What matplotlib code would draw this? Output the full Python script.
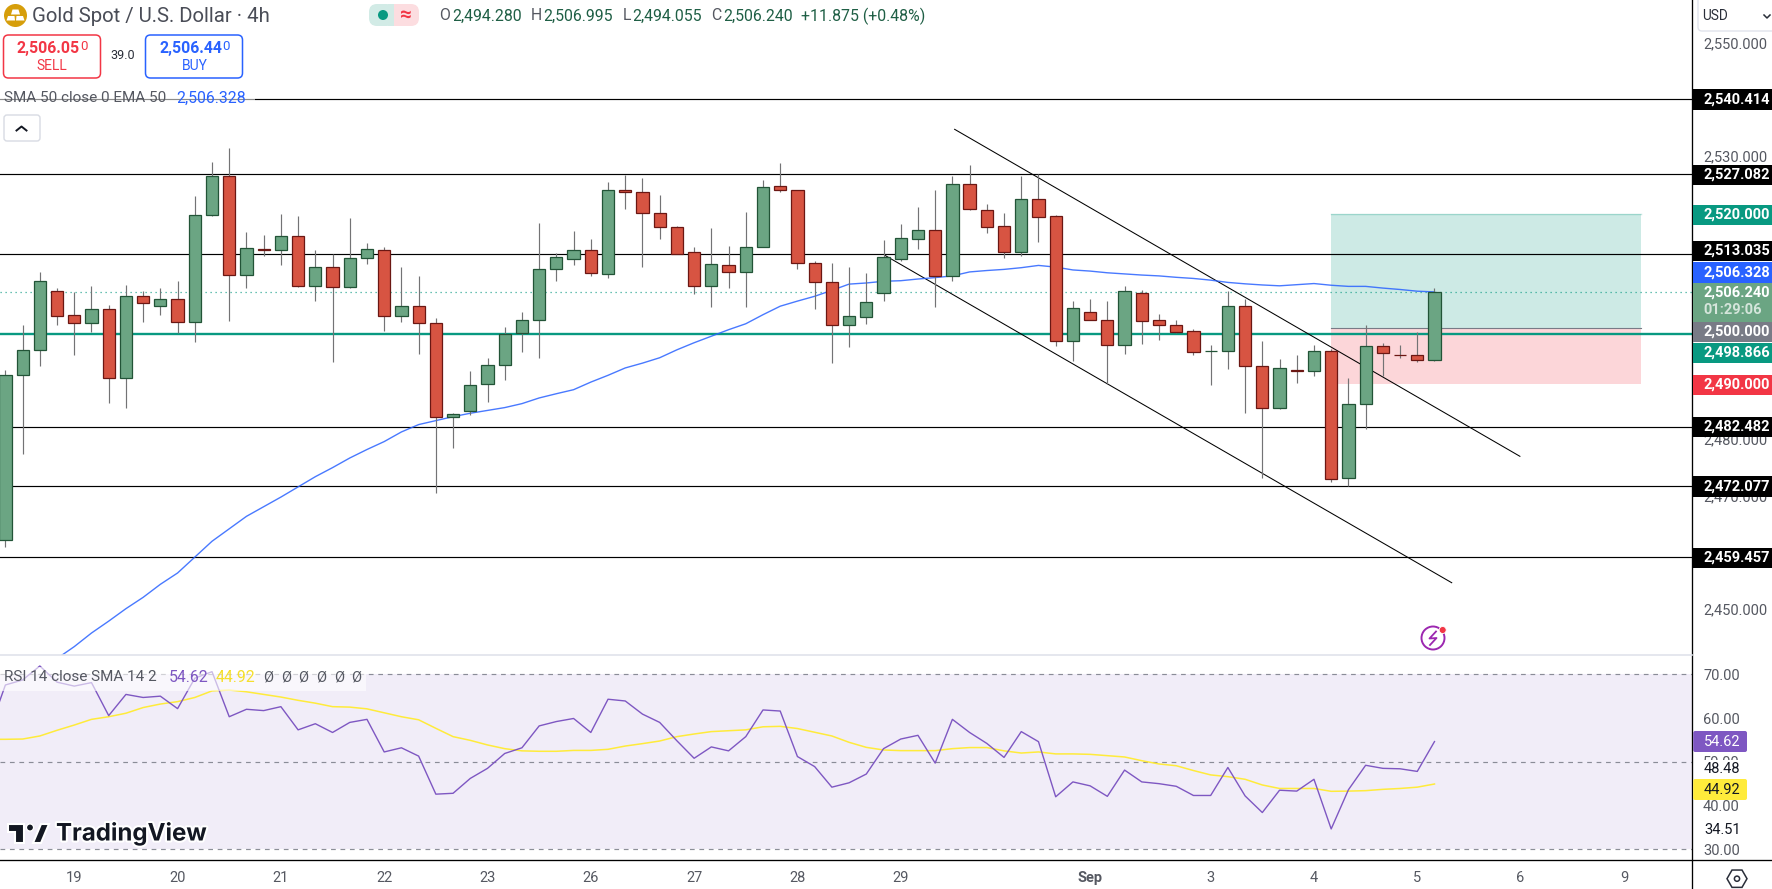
import matplotlib
matplotlib.use("Agg")
import matplotlib.pyplot as plt
from matplotlib.patches import Rectangle, Circle, FancyBboxPatch, Polygon, RegularPolygon
from matplotlib.transforms import ScaledTranslation
import matplotlib.patheffects as pe

plt.rcParams['font.family'] = ['Roboto', 'DejaVu Sans']

# ======================
# DATA
# ======================
opens = [2462.5, 2491.7, 2496.0, 2506.5, 2502.3, 2500.8, 2503.3, 2491.1, 2505.6, 2503.8,
         2505.1, 2501.0, 2519.9, 2526.8, 2509.3, 2513.9, 2513.7, 2516.2, 2507.4, 2510.7,
         2507.2, 2512.3, 2513.7, 2502.1, 2503.8, 2500.8, 2484.2, 2485.3, 2490.1, 2493.5,
         2499.0, 2501.4, 2510.4, 2512.1, 2513.7, 2509.5, 2524.25, 2523.9, 2520.2, 2517.7,
         2513.3, 2507.3, 2511.0, 2509.9, 2514.3, 2525.1, 2524.4, 2511.5, 2508.1, 2500.5,
         2501.9, 2506.2, 2512.2, 2515.7, 2517.2, 2509.2, 2525.3, 2520.7, 2517.9, 2513.4,
         2522.8, 2519.65, 2497.6, 2502.8, 2501.4, 2496.9, 2506.2, 2501.4, 2500.5, 2499.5,
         2495.95, 2495.9, 2503.9, 2493.3, 2485.9, 2492.6, 2492.3, 2495.9, 2473.4, 2486.6,
         2496.8, 2495.25, 2495.2, 2494.28]
closes = [2491.7, 2496.0, 2508.3, 2502.1, 2500.8, 2503.3, 2491.1, 2505.6, 2504.4, 2505.1,
          2501.0, 2519.9, 2526.8, 2509.3, 2514.1, 2513.7, 2516.2, 2507.4, 2510.7, 2507.2,
          2512.3, 2513.9, 2502.1, 2503.8, 2500.8, 2484.2, 2484.7, 2489.9, 2493.5, 2498.9,
          2501.4, 2510.4, 2512.5, 2513.7, 2509.6, 2524.25, 2523.9, 2520.2, 2517.8, 2513.0,
          2507.3, 2511.2, 2509.9, 2514.3, 2524.8, 2524.4, 2511.5, 2508.1, 2500.5, 2502.0,
          2504.6, 2512.4, 2515.9, 2517.2, 2509.2, 2525.3, 2521.0, 2517.8, 2513.4, 2522.8,
          2519.6, 2497.6, 2503.4, 2501.4, 2496.9, 2506.4, 2501.2, 2500.5, 2499.2, 2495.7,
          2495.95, 2503.9, 2493.3, 2485.9, 2492.9, 2492.3, 2495.9, 2473.3, 2486.6, 2496.8,
          2495.6, 2495.2, 2494.3, 2506.24]
highs = [2492.5, 2500.4, 2509.9, 2507.0, 2506.3, 2507.3, 2504.1, 2507.6, 2506.4, 2507.0,
         2508.3, 2523.3, 2529.3, 2531.8, 2516.9, 2516.3, 2520.0, 2519.8, 2513.8, 2513.1,
         2519.3, 2514.9, 2514.3, 2510.8, 2509.2, 2501.8, 2485.0, 2492.3, 2494.6, 2500.2,
         2502.7, 2518.5, 2513.2, 2517.1, 2515.7, 2525.7, 2527.0, 2526.4, 2523.4, 2517.9,
         2514.2, 2517.6, 2514.4, 2520.4, 2526.1, 2529.1, 2524.4, 2511.7, 2511.4, 2510.7,
         2509.6, 2515.5, 2518.3, 2521.3, 2524.4, 2526.8, 2528.7, 2521.8, 2520.2, 2526.8,
         2527.1, 2519.9, 2504.8, 2505.0, 2504.7, 2507.3, 2506.6, 2502.5, 2501.3, 2499.7,
         2497.0, 2506.5, 2505.1, 2497.7, 2494.4, 2495.1, 2497.0, 2496.2, 2491.2, 2500.4,
         2497.3, 2497.0, 2499.3, 2506.995]
lows = [2461.3, 2477.7, 2493.3, 2500.5, 2495.2, 2499.3, 2486.7, 2485.8, 2501.0, 2502.3,
        2499.1, 2497.5, 2519.7, 2501.1, 2507.0, 2512.6, 2511.0, 2507.2, 2504.7, 2493.9,
        2507.0, 2511.3, 2499.4, 2501.0, 2495.4, 2470.9, 2478.7, 2484.6, 2486.9, 2490.7,
        2495.7, 2494.7, 2508.2, 2511.1, 2509.1, 2508.8, 2521.0, 2510.7, 2515.7, 2513.0,
        2506.0, 2503.7, 2507.0, 2503.7, 2514.3, 2524.0, 2510.4, 2503.3, 2493.7, 2496.6,
        2500.65, 2504.8, 2511.7, 2513.9, 2503.7, 2508.3, 2520.8, 2516.8, 2512.3, 2512.7,
        2515.2, 2496.8, 2494.2, 2501.4, 2490.1, 2495.3, 2497.2, 2497.8, 2499.0, 2495.2,
        2489.9, 2492.8, 2484.9, 2473.4, 2485.6, 2490.2, 2491.4, 2472.7, 2472.05, 2482.2,
        2491.4, 2494.6, 2494.0, 2494.055]

# EMA 50, starts at the fourth candle (the rest is below the pane)
ema_start = 3
ema = [2441.6, 2443.7, 2446.1, 2448.2, 2450.4, 2452.4, 2454.7, 2456.7, 2459.5, 2462.3,
       2464.5, 2466.7, 2468.4, 2470.1, 2471.9, 2473.7, 2475.3, 2477.0, 2478.5, 2479.9,
       2481.6, 2482.9, 2483.6, 2484.3, 2484.9, 2485.4, 2485.9, 2486.6, 2487.6, 2488.35,
       2489.06, 2490.4, 2491.6, 2492.9, 2493.75, 2494.7, 2496.1, 2497.35, 2498.5, 2499.65,
       2500.7, 2502.3, 2503.8, 2504.7, 2505.55, 2506.6, 2507.7, 2507.9, 2508.2, 2508.3,
       2508.6, 2508.85, 2509.15, 2509.85, 2510.1, 2510.3, 2510.6, 2511.0, 2510.7, 2510.2,
       2510.0, 2509.7, 2509.5, 2509.3, 2509.15, 2508.9, 2508.7, 2508.4, 2508.0, 2507.75,
       2507.55, 2507.4, 2507.6, 2507.8, 2507.5, 2507.3, 2507.3, 2507.0, 2506.75, 2506.45,
       2506.328]

# RSI and its SMA, one point before the first visible candle
rsi = [56.5, 67.56, 68.7, 71.9, 68.2, 67.3, 68.1, 60.55, 65.4, 64.7, 65.0, 62.15, 69.1, 70.6,
       60.3, 62.0, 61.7, 62.6, 57.3, 58.7, 56.7, 59.0, 59.7, 52.25, 53.2, 51.3, 42.6, 42.8,
       46.2, 48.5, 51.9, 53.2, 58.2, 59.2, 59.9, 56.7, 64.3, 63.9, 60.9, 59.0, 54.8, 50.8,
       53.4, 52.5, 55.75, 61.85, 61.6, 51.2, 48.9, 44.2, 45.2, 47.2, 53.0, 55.2, 56.05, 49.7,
       59.7, 56.7, 54.2, 51.0, 56.9, 54.6, 42.0, 45.4, 44.5, 42.1, 48.1, 45.4, 45.0, 44.4,
       42.3, 42.3, 48.7, 42.2, 38.4, 43.5, 43.3, 46.0, 34.65, 43.6, 49.2, 48.5, 48.4, 47.8,
       54.62]
rsi_sma = [55.14, 55.14, 55.2, 55.9, 57.2, 58.4, 59.7, 60.3, 61.1, 62.4, 63.2, 63.75, 64.7, 66.2,
           66.4, 66.0, 65.4, 64.8, 64.05, 63.4, 62.6, 62.5, 62.1, 61.2, 60.3, 59.6, 57.65, 55.75,
           54.9, 53.85, 53.0, 52.5, 52.4, 52.4, 52.6, 52.6, 52.85, 53.6, 54.15, 54.75, 55.75, 56.35,
           56.9, 57.1, 57.3, 58.0, 58.1, 57.6, 56.75, 55.9, 54.45, 53.3, 52.7, 52.55, 52.55, 52.55,
           53.0, 53.25, 53.25, 52.5, 52.0, 52.25, 51.8, 51.8, 51.7, 51.4, 51.1, 50.25, 49.5, 49.1,
           48.0, 47.0, 46.6, 46.0, 44.7, 43.9, 43.9, 43.9, 43.25, 43.3, 43.4, 43.7, 43.9, 44.2,
           44.92]

level_prices = [2540.414, 2527.082, 2513.035, 2482.482, 2472.077, 2459.457]
last_price = 2506.24
prev_close_line = 2498.866
target_price = 2520.0
entry_price = 2500.0
stop_price = 2490.0
position_x = [77, 95]

channel_upper_x = [55.13, 87.96]
channel_upper_y = [2535.03, 2477.3]
channel_lower_x = [51.07, 84.0]
channel_lower_y = [2512.8, 2454.98]

price_ticks = [2550, 2530, 2480, 2470, 2450]
rsi_ticks = [70, 60, 50, 40, 30]
date_pos = [4, 10, 16, 22, 28, 34, 40, 46, 52, 63, 70, 76, 82, 88, 94]
date_labels = ['19', '20', '21', '22', '23', '26', '27', '28', '29', 'Sep', '3', '4', '5', '6', '9']

# ======================
# COLOURS
# ======================
GREEN = '#6BA583'
GREEN_EDGE = '#225437'
RED = '#D75442'
RED_EDGE = '#6B1713'
WICK = '#737375'
TEAL = '#089981'
BLUE = '#2962FF'
TV_RED = '#F23645'
PURPLE = '#7E57C2'
YELLOW = '#FFEB3B'
GREY_TXT = '#555861'

# ======================
# FIGURE AND PANES
# ======================
W, H = 1772, 889
fig = plt.figure(figsize=(W / 100, H / 100), dpi=100, facecolor='white')
AX_R = 1692.5
PANE_Y = 655
RSI_B = 860


def pane(top, bottom):
    return fig.add_axes([0, 1 - bottom / H, AX_R / W, (bottom - top) / H])


ax = pane(0, PANE_Y)
ax2 = pane(PANE_Y, RSI_B)
xlim = (-5.4 / 17.218, (AX_R - 5.4) / 17.218)
ax.set_xlim(xlim)
ax2.set_xlim(xlim)
ax.set_ylim(2442.22, 2557.86)
ax2.set_ylim(27.55, 74.41)

for a in (ax, ax2):
    for s in a.spines.values():
        s.set_visible(False)
    a.yaxis.tick_right()

ax.set_xticks([])
ax.set_yticks(price_ticks)
ax.set_yticklabels([f'{p:,.3f}' for p in price_ticks], fontsize=10.5, color=GREY_TXT, va='center_baseline')
ax.tick_params(axis='y', length=0, pad=7.6)
# the reference prints these labels a little above their price
for lab in ax.get_yticklabels():
    lab.set_transform(lab.get_transform() + ScaledTranslation(0, 2 / 100, fig.dpi_scale_trans))

ax2.set_yticks(rsi_ticks)
ax2.set_yticklabels([f'{p:.2f}' for p in rsi_ticks], fontsize=10.5, color=GREY_TXT, va='center_baseline')
ax2.tick_params(axis='y', length=0, pad=7.6)
ax2.set_xticks(date_pos)
ax2.set_xticklabels(date_labels, fontsize=10.5, color=GREY_TXT)
ax2.tick_params(axis='x', length=0, pad=8)
ax2.get_xticklabels()[date_labels.index('Sep')].set_fontweight('bold')

# ======================
# MAIN PANE
# ======================
ax.add_patch(Rectangle((position_x[0], entry_price), position_x[1] - position_x[0],
                       target_price - entry_price, fc=TEAL, alpha=0.2, lw=0, zorder=1))
ax.add_patch(Rectangle((position_x[0], stop_price), position_x[1] - position_x[0],
                       entry_price - stop_price, fc=TV_RED, alpha=0.2, lw=0, zorder=1))
ax.plot(position_x, [target_price, target_price], color=TEAL, alpha=0.25, lw=1, zorder=1)
ax.plot(position_x, [entry_price, entry_price], color='#787B86', lw=0.8, zorder=1.5)

for p in level_prices:
    ax.axhline(p, color='black', lw=0.85, zorder=2)
ax.axhline(prev_close_line, color=TEAL, lw=1.7, zorder=2)
ax.axhline(last_price, color=TEAL, lw=0.9, ls=(0, (1, 3)), alpha=0.8, zorder=2)

ax.plot(channel_upper_x, channel_upper_y, color='black', lw=0.75, zorder=2.5)
ax.plot(channel_lower_x, channel_lower_y, color='black', lw=0.75, zorder=2.5)

ax.plot(range(ema_start, ema_start + len(ema)), ema, color=BLUE, alpha=0.85, lw=1.0, zorder=2.7)

xs = list(range(len(opens)))
ax.vlines(xs, lows, highs, color=WICK, lw=0.85, zorder=3)
for i in xs:
    up = closes[i] >= opens[i]
    ax.bar(i, closes[i] - opens[i], bottom=opens[i], width=0.71,
           color=GREEN if up else RED, edgecolor=GREEN_EDGE if up else RED_EDGE,
           lw=0.9, zorder=4)

# ======================
# RSI PANE
# ======================
ax2.axhspan(30, 70, color=PURPLE, alpha=0.1, lw=0, zorder=1)
for lv in rsi_ticks[0], rsi_ticks[2], rsi_ticks[4]:
    ax2.axhline(lv, color='#787B86', lw=0.85, ls=(0, (4, 4)), alpha=0.85, zorder=2)
ax2.plot(range(-1, len(rsi_sma) - 1), rsi_sma, color=YELLOW, lw=1.1, zorder=3)
ax2.plot(range(-1, len(rsi) - 1), rsi, color=PURPLE, lw=1.0, zorder=4)

# ======================
# OVERLAY IN PIXELS (header, badges, icons)
# ======================
ov = fig.add_axes([0, 0, 1, 1], zorder=10)
ov.set_xlim(0, W)
ov.set_ylim(H, 0)
ov.axis('off')
ov.patch.set_alpha(0)


def txt(x, y, s, size=10.5, color=GREY_TXT, ha='left', **kw):
    return ov.text(x, y, s, fontsize=size, color=color, ha=ha, va='center', **kw)


def rbox(x0, y0, x1, y1, fc='white', ec='none', lw=1, r=3, alpha=None, z=1):
    ov.add_patch(FancyBboxPatch((x0 + r, y0 + r), x1 - x0 - 2 * r, y1 - y0 - 2 * r,
                                boxstyle=f'round,pad={r}', fc=fc, ec=ec, lw=lw, alpha=alpha, zorder=z))


# pane borders
ov.plot([0, W], [RSI_B, RSI_B], color='black', lw=0.95)
ov.plot([AX_R, AX_R], [0, H], color='black', lw=0.95)
ov.plot([0, AX_R], [PANE_Y, PANE_Y], color='#E0E3EB', lw=1.2)

# gold logo
ov.add_patch(Circle((15.5, 15.5), 11.5, fc='#D69E0B', ec='none'))
ov.add_patch(Polygon([(12.5, 9.5), (18.5, 9.5), (20, 14.5), (11, 14.5)], fc='white', ec='none', zorder=2))
ov.add_patch(Polygon([(8, 16), (14.5, 16), (15, 20.5), (6.5, 20.5)], fc='white', ec='none', zorder=2))
ov.add_patch(Polygon([(16.5, 16), (23, 16), (24.5, 20.5), (16, 20.5)], fc='white', ec='none', zorder=2))
txt(32, 16.5, 'Gold Spot / U.S. Dollar · 4h', size=14.7, color='#4A4D57')

# status pill
rbox(369, 4, 394, 26, fc='#D2EBE6', r=8)
rbox(394, 4, 419, 26, fc='#FCDDE0', r=8)
ov.add_patch(Rectangle((388, 4), 10, 22, fc='#D2EBE6', lw=0, zorder=1))
ov.add_patch(Rectangle((394, 4), 10, 22, fc='#FCDDE0', lw=0, zorder=1))
ov.add_patch(Circle((383, 15), 5, fc=TEAL, ec='none', zorder=3))
txt(406, 15, '≈', size=15, color=TV_RED, ha='center', fontweight='bold', zorder=3)

# OHLC
ohlc_green = '#1F5F45'
for x_l, x_v, lab, val in [(439.5, 452, 'O', '2,494.280'), (531, 543.5, 'H', '2,506.995'),
                           (622.7, 632.5, 'L', '2,494.055'), (711.5, 723.5, 'C', '2,506.240')]:
    txt(x_l, 16, lab, size=11.4)
    txt(x_v, 16, val, size=11.4, color=ohlc_green)
txt(801, 16, '+11.875 (+0.48%)', size=11.4, color=ohlc_green)

# sell / buy boxes
rbox(3.5, 35, 100.5, 78, ec=TV_RED, lw=1.1, r=5)
txt(17, 48.5, '2,506.05', size=11.4, color=TV_RED, fontweight='bold')
txt(80, 47, '0', size=9.5, color=TV_RED)
txt(51.7, 66, 'SELL', size=10, color=TV_RED, ha='center')
txt(123, 55.5, '39.0', size=9, color='#2A2E39', ha='center')
rbox(145.5, 35, 242.5, 78, ec=BLUE, lw=1.1, r=5)
txt(159.6, 48.5, '2,506.44', size=11.4, color=BLUE, fontweight='bold')
txt(222, 47, '0', size=9.5, color=BLUE)
txt(194.4, 66, 'BUY', size=10, color=BLUE, ha='center')

# indicator legend
ov.add_patch(Rectangle((0, 88), 255, 22, fc='white', alpha=0.55, lw=0, zorder=1))
txt(4, 98, 'SMA 50 close 0 EMA 50', size=11)
txt(176, 98, '2,506.328', size=11.4, color=BLUE)
rbox(4, 115, 40, 141, ec='#D8DBE3', lw=1, r=3)
ov.plot([16.5, 21.5, 26.5], [130.5, 126.5, 130.5], color='#131722', lw=1.4)

# lightning icon
ov.add_patch(Circle((1433, 638), 11.5, fc='white', ec='#9C27B0', lw=1.4))
ov.plot([1436, 1429.5, 1436.5, 1430], [631.5, 638.5, 638, 645], color='#9C27B0', lw=1.3)
ov.add_patch(Circle((1442.7, 630), 3.5, fc=TV_RED, ec='white', lw=0.6, zorder=3))

# price badges
BADGE_L = 1693.2
for yc, fc, s in [(99.4, 'black', '2,540.414'), (175, 'black', '2,527.082'), (215, TEAL, '2,520.000'),
                  (251, 'black', '2,513.035'), (272.3, BLUE, '2,506.328'), (332, '#787B86', '2,500.000'),
                  (353, TEAL, '2,498.866'), (385, TV_RED, '2,490.000'), (427, 'black', '2,482.482'),
                  (486.5, 'black', '2,472.077'), (558, 'black', '2,459.457')]:
    ov.add_patch(Rectangle((BADGE_L, yc - 10.3), W - BADGE_L, 20.6, fc=fc, lw=0, zorder=2))
    txt(1703.6, yc, s, size=10.5, color='white', fontweight='bold', zorder=3)
ov.add_patch(Rectangle((BADGE_L, 283.3), W - BADGE_L, 38.4, fc=GREEN, lw=0, zorder=2))
txt(1703.6, 293, '2,506.240', size=10.5, color='white', fontweight='bold', zorder=3)
txt(1703.6, 310.5, '01:29:06', size=10.5, color='#D5E5DB', fontweight='bold', zorder=3)

# USD selector
rbox(1698, -6, 1780, 31, ec='#E0E3EB', lw=1, r=4)
txt(1702, 16.5, 'USD', size=9.8, color='#2A2E39')
ov.plot([1764, 1767, 1770], [15, 18, 15], color='#2A2E39', lw=1.1)

# RSI legend
ov.add_patch(Rectangle((0, 667), 366, 24, fc='white', alpha=0.6, lw=0, zorder=1))
txt(4, 677, 'RSI 14 close SMA 14 2', size=11, zorder=2)
txt(168.5, 677, '54.62', size=11.4, color=PURPLE, zorder=2)
txt(216, 677, '44.92', size=11.4, color='#F5DF2C', zorder=2)
for i in range(6):
    txt(268 + i * 17.7, 677, 'Ø', size=10.5, color=GREY_TXT, ha='center', zorder=2)

# RSI axis values and badges
ov.add_patch(Rectangle((1694, 760), 55, 19, fc='white', lw=0, zorder=1.5))
ov.add_patch(Rectangle((1694, 820), 55, 19, fc='white', lw=0, zorder=1.5))
rbox(1693.2, 731, 1747, 752, fc=PURPLE, r=2, z=2)
txt(1704, 741.5, '54.62', color='white', zorder=3)
rbox(1693.2, 779, 1747, 800, fc=YELLOW, r=2, z=2)
txt(1704, 789.5, '44.92', color='#131722', zorder=3)
txt(1704, 769, '48.48', color='#131722', zorder=3)
txt(1704, 829.7, '34.51', color='#131722', zorder=3)

# TradingView logo
halo = [pe.withStroke(linewidth=3, foreground='white')]
for poly in ([(8, 824), (24, 824), (24, 843), (15, 843), (15, 832), (8, 832)],
             [(33, 843), (41, 824), (49, 824), (41, 843)]):
    ov.add_patch(Polygon(poly, fc='#131722', ec='white', lw=1.5, zorder=3, joinstyle='miter'))
ov.add_patch(Circle((30, 827.5), 3.6, fc='#131722', ec='white', lw=1, zorder=3))
txt(56, 834, 'TradingView', size=17.3, color='#131722', family=['Inter', 'DejaVu Sans'],
    fontweight='bold', path_effects=halo, zorder=3)

# settings hexagon
ov.add_patch(RegularPolygon((1737, 878.7), 6, radius=10, orientation=0.5236, fc='white', ec='#2A2E39', lw=1.1))
ov.add_patch(Circle((1737, 878.7), 2.6, fc='white', ec='#2A2E39', lw=1.1, zorder=3))

fig.savefig('out.png', dpi=100, facecolor='white')
